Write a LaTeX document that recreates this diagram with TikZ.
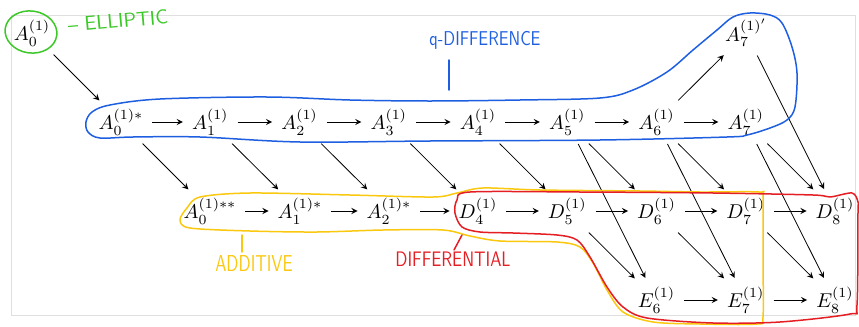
\documentclass[tikz,border=0pt]{standalone}
\usepackage{amsmath, amssymb}
\usepackage{xcolor}
\usepackage{tikz}
\usetikzlibrary{calc, positioning}

\definecolor{penGreen}{RGB}{60,200,40}
\definecolor{penBlue}{RGB}{30,95,225}
\definecolor{penYellow}{RGB}{250,200,15}
\definecolor{penRed}{RGB}{228,30,35}

\tikzset{
    pen/.style={line width=0.75pt, line join=round, line cap=round},
    note/.style={font=\sffamily\fontsize{10}{10}\selectfont},
    arr/.style={->, shorten >=1pt, shorten <=1pt},
}

\begin{document}
\begin{tikzpicture}[>=stealth, x=0.5pt, y=-0.5pt]
    \useasboundingbox (0,0) rectangle (859,327);
    % Khung nền
    \draw[gray!25] (11,15) rectangle (855,315);

    % Các nút
    \node (a0) at (32,33) {$A_0^{(1)}$};
    \node (a7p) at (746,33) {$A_7^{(1)'}$};
    \node (a0s) at (121,122) {$A_0^{(1)*}$};
    \foreach \i in {1,...,7} {
        \node (a\i) at ({121+89.25*\i},122) {$A_{\i}^{(1)}$};
    }
    \node (a0ss) at (210,211) {$A_0^{(1)**}$};
    \node (a1s) at (300,211) {$A_1^{(1)*}$};
    \node (a2s) at (389,211) {$A_2^{(1)*}$};
    \foreach \i in {4,...,8} {
        \node (d\i) at ({121+89.25*\i},211) {$D_{\i}^{(1)}$};
    }
    \foreach \i in {6,7,8} {
        \node (e\i) at ({121+89.25*\i},300) {$E_{\i}^{(1)}$};
    }

    % Mũi tên ngang
    \draw[arr] (a0s) -- (a1);
    \foreach \i/\j in {1/2, 2/3, 3/4, 4/5, 5/6, 6/7} {
        \draw[arr] (a\i) -- (a\j);
    }
    \draw[arr] (a0ss) -- (a1s);
    \draw[arr] (a1s) -- (a2s);
    \draw[arr] (a2s) -- (d4);
    \foreach \i/\j in {4/5, 5/6, 6/7, 7/8} {
        \draw[arr] (d\i) -- (d\j);
    }
    \draw[arr] (e6) -- (e7);
    \draw[arr] (e7) -- (e8);

    % Mũi tên chéo
    \draw[arr] (a0) -- (a0s);
    \draw[arr] (a6) -- (a7p);
    \draw[arr] (a7p) -- (d8);
    \draw[arr] (a0s) -- (a0ss);
    \draw[arr] (a1) -- (a1s);
    \draw[arr] (a2) -- (a2s);
    \foreach \i/\j in {3/4, 4/5, 5/6, 6/7, 7/8} {
        \draw[arr] (a\i) -- (d\j);
    }
    \foreach \i/\j in {5/6, 6/7, 7/8} {
        \draw[arr] (a\i) -- (e\j);
        \draw[arr] (d\i) -- (e\j);
    }

    % Đường bao: elliptic
    \draw[pen, penGreen, rotate around={-8:(31,32)}] (31,32) ellipse (26 and 21);
    \node[note, text=penGreen, rotate=5] (ellip) at (118,21) {-- ELLIPTIC};

    % Đường bao: q-difference
    \draw[pen, penBlue] plot[smooth cycle, tension=0.55] coordinates {
        (86,122) (92,112) (110,105) (160,99) (267,97) (350,100) (430,101)
        (520,100) (600,98) (633,90) (667,72) (693,50) (717,30) (733,17)
        (750,13) (770,15) (782,23) (792,47) (797,73) (795,107) (787,120)
        (770,128) (747,135) (727,137) (600,140) (430,141) (300,142)
        (200,137) (133,137) (100,138) (88,132)};
    \draw[pen, penBlue] (449,60) -- (449,90);
    \node[note, text=penBlue, xscale=0.82] (qdiff) at (485,40) {q-DIFFERENCE};

    % Đường bao: additive
    \draw[pen, penYellow] plot[smooth cycle, tension=0.5] coordinates {
        (180,220) (187,208) (200,197) (250,193) (350,195) (433,197)
        (457,193) (483,188) (540,190) (640,191) (700,192) (759,192)
        (763,197) (763,260) (763,317) (757,324) (700,324) (653,322)
        (623,312) (607,290) (593,263) (580,247) (557,242) (500,241)
        (470,236) (443,230) (383,230) (317,232) (250,231) (190,228)};
    \draw[pen, penYellow] (242,235) -- (242,252);
    \node[note, text=penYellow, xscale=0.75, font=\sffamily\fontsize{11.5}{11.5}\selectfont] (addit) at (254,264) {ADDITIVE};

    % Đường bao: differential
    \draw[pen, penRed] plot[smooth cycle, tension=0.5] coordinates {
        (470,192) (580,192) (713,193) (813,195) (830,197) (852,193)
        (858,202) (858,213) (857,305) (850,314) (780,322) (713,323)
        (647,318) (623,307) (607,287) (590,257) (577,240) (557,235)
        (513,233) (480,232) (462,227) (455,213) (457,200)};
    \draw[pen, penRed] (462,235) -- (454,250);
    \node[note, text=penRed, xscale=0.8, font=\sffamily\fontsize{10.5}{10.5}\selectfont] (diffl) at (453,259) {DIFFERENTIAL};
\end{tikzpicture}
\end{document}
